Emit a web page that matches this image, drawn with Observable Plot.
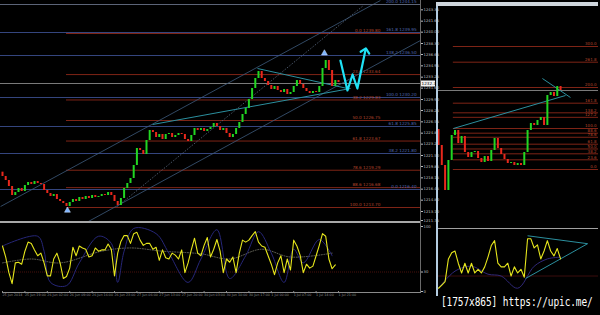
<!DOCTYPE html>
<html><head><meta charset="utf-8">
<script src="https://cdn.jsdelivr.net/npm/d3@7"></script>
<script src="https://cdn.jsdelivr.net/npm/@observablehq/plot@0.6"></script>
<style>
html,body{margin:0;padding:0;background:#000;}
#wrap{position:relative;width:600px;height:315px;background:#000;overflow:hidden;font-family:"DejaVu Sans",sans-serif;}
.p{position:absolute;}
.ln{position:absolute;}
#wm{position:absolute;left:441px;top:294px;color:#fff;font:9.5px "DejaVu Sans Mono",monospace;letter-spacing:-0.1px;white-space:nowrap;transform:scaleY(1.3);transform-origin:top left;}
</style></head><body><div id="wrap"></div>
<script>
// ---------- LEFT (H1) main chart data ----------
const leftFirstOpen = 1219.00;
const leftCloses = [1218.35,1217.75,1216.85,1215.50,1215.95,1216.55,1216.10,1217.00,1217.45,1217.15,
1217.60,1217.30,1217.15,1216.25,1215.80,1215.35,1215.65,1214.90,1214.60,1214.30,
1213.85,1214.45,1214.90,1214.60,1215.20,1214.90,1215.35,1215.05,1215.50,1215.20,
1215.35,1215.65,1215.50,1215.95,1215.50,1214.60,1214.00,1215.05,1216.55,1217.30,
1218.05,1220.00,1222.55,1222.25,1221.65,1223.75,1225.25,1224.95,1224.20,1224.65,
1223.90,1224.65,1224.80,1224.20,1224.50,1224.80,1224.65,1223.90,1223.60,1224.50,
1225.55,1225.25,1225.55,1225.10,1225.40,1225.70,1226.30,1225.85,1225.25,1225.55,
1224.80,1224.20,1224.65,1225.55,1226.45,1227.65,1228.55,1229.90,1231.55,1233.05,
1234.10,1233.05,1232.60,1232.00,1231.40,1231.85,1231.25,1230.95,1231.40,1230.65,
1230.95,1231.85,1232.75,1232.15,1231.55,1231.10,1230.80,1231.10,1230.95,1231.85,
1234.55,1235.75,1234.25,1231.85,1232.75,1232.45];
const currentPrice = 1232.30;
const priceTicks = [1243.35,1241.65,1240.00,1238.30,1236.65,1234.95,1233.25,1231.60,1229.90,1228.25,
1226.55,1224.85,1223.20,1221.50,1219.85,1218.15,1216.45,1214.80,1213.10,1211.75];
// fibo retracement (red)
const fibNames = ["0.0","23.6","38.2","50.0","61.8","78.6","88.6","100.0"];
const fibPrices = [1239.80,1233.64,1229.83,1226.75,1223.67,1219.29,1216.68,1213.70];
const fibStartBar = 20;
// fibo expansion (blue)
const expNames = ["200.0","161.8","138.2","100.0","61.8","38.2","0.0"];
const expPrices = [1244.15,1239.95,1236.50,1230.20,1225.85,1221.80,1216.40];
// trend lines [bar1, price1, bar2, price2]
const triUpper = [79.7,1234.55,107.8,1231.55];
const triLower = [46.9,1226.15,108.75,1231.55];
const chan1 = [-0.6,1213.85,118.1,1244.75];
const chan2 = [35.9,1213.85,112.8,1244.00];
const chan3 = [26.25,1211.45,130.6,1238.75];
const arrowBars = [20.3,100.6];
const arrowPrices = [1213.25,1236.85];
// hand-drawn cyan forecast zigzag
const zigBars = [105.6,107.8,109.4,110.9,113.4];
const zigPrices = [1235.75,1231.25,1233.65,1231.55,1237.25];
// oscillator (left)
const oscMain = [70,53,29,12,44,45,42,62,76,74,
64,55,59,44,24,24,50,59,44,20,
23,36,68,55,70,67,65,53,55,67,
62,64,64,73,65,24,59,77,86,86,
74,89,91,79,71,74,74,65,68,48,
64,52,50,59,56,50,64,29,44,64,
82,59,55,71,83,53,65,80,62,29,
50,45,53,29,59,79,76,79,86,92,
76,70,68,55,42,26,44,55,29,50,
33,79,70,56,29,42,36,39,55,71,
89,85,50,35,41];
const sigBars = [0,11,13,15,20,24,30,34,36,38,41,48,52,58,62,67,71,76,80,84,88,91,94,99,103];
const sigVals = [70,85,62,14,9,44,85,74,14,62,97,89,59,14,50,95,20,55,92,59,14,65,44,80,55];
const maBars = [0,9,18,31,40,50,62,71,81,90,103];
const maVals = [44,50,44,62,67,62,58,50,65,53,59];
const oscLevel = 30;
const oscTicks = [0,30,100];
const timeTicks = [0,7,14,21,28,35,42,49,56,63,70,77,84,91,98,105];
const timeLabels = ["25 Jun 2014","25 Jun 19:00","26 Jun 02:00","26 Jun 09:00","26 Jun 16:00","26 Jun 23:00","27 Jun 06:00","27 Jun 13:00","27 Jun 20:00","30 Jun 03:00","30 Jun 10:00","30 Jun 17:00","1 Jul 00:00","1 Jul 07:00","1 Jul 14:00","1 Jul 21:00"];

// ---------- RIGHT (H4) chart data ----------
const rightFirstOpen = 1222.55;
const rightCloses = [1218.55,1213.55,1207.30,1214.80,1221.05,1222.30,1219.05,1220.80,1216.80,1215.55,
1216.80,1217.05,1215.30,1214.30,1215.80,1214.55,1217.30,1220.30,1217.80,1216.30,
1215.05,1214.05,1214.30,1213.55,1214.05,1213.55,1216.80,1222.30,1224.05,1223.55,
1224.80,1225.55,1223.55,1231.05,1231.80,1230.80,1233.30,1232.30];
const rFibNames = ["0.0","23.6","38.2","50.0","61.8","78.6","88.6","100.0","127.2","138.2","161.8","200.0","261.8","300.0"];
const rFibPrices = [1212.55,1214.97,1216.47,1217.68,1218.88,1220.61,1221.63,1222.80,1225.59,1226.72,1229.13,1233.05,1239.38,1243.30];
const rFibStart = 4.5;
const rLineA = [4.5,1222.80,38.5,1231.05];
const rLineB = [31.5,1235.30,40,1230.55];
const rOscMain = [7,12,18,55,65,68,48,32,48,32,48,32,38,32,42,58,77,85,48,42,42,48,27,42,32,38,25,88,88,73,78,55,68,85,68,60,72,55];
const rSigBars = [0,5,10,15,19,24,29,33,37];
const rSigVals = [7,35,43,30,27,7,43,55,58];
const rOscLevel = 27;
const rTriUp = [27,93,45.2,80];
const rTriLo = [26.4,23,45.2,80];

// ---------- colours ----------
const UP = "#22d622", DN = "#e8281c", FIBRED = "#7e2416", FIBTXT = "#b5452c",
      BLUE = "#34457e", BLUETXT = "#5068b0", TEAL = "#2b8f9e", CHAN = "#3e5a7c", GRID = "#7a7a7a";

const wrap = document.getElementById("wrap");
function place(node, left, top) { node.classList.add("p"); node.style.left = left + "px"; node.style.top = top + "px"; wrap.appendChild(node); }
function line(l, t, w, h, c) { const d = document.createElement("div"); d.className = "ln"; Object.assign(d.style, {left:l+"px", top:t+"px", width:w+"px", height:h+"px", background:c}); wrap.appendChild(d); }
const seg = a => [{x1:a[0], y1:a[1], x2:a[2], y2:a[3]}];
const baseStyle = {background:"transparent", color:"#bbb", fontFamily:"DejaVu Sans, sans-serif", overflow:"visible"};

const leftBars = leftCloses.map((c,i)=>({i, open: i===0 ? leftFirstOpen : leftCloses[i-1], close:c}));
const fibTable = fibNames.map((n,k)=>({n, p: fibPrices[k]}));
const expTable = expNames.map((n,k)=>({n, p: expPrices[k]}));
const zig = zigBars.map((b,k)=>({b, p: zigPrices[k]}));
const arrows = arrowBars.map((b,k)=>({b, p: arrowPrices[k]}));

const xDomL = [-0.625, 130.625];

const mainL = Plot.plot({
  width: 436, height: 222, marginTop: 5, marginBottom: 0, marginLeft: 0, marginRight: 16,
  style: baseStyle,
  x: {domain: xDomL, axis: null, label: null},
  y: {domain: [1211.45, 1244.0], label: null},
  color: {type: "identity"},
  marks: [
    Plot.ruleY(expTable, {y: "p", stroke: BLUE, strokeWidth: 1}),
    Plot.ruleY(fibTable, {y: "p", x1: fibStartBar, x2: xDomL[1], stroke: FIBRED, strokeWidth: 1}),
    Plot.ruleY([currentPrice], {stroke: GRID, strokeWidth: 1}),
    Plot.text(fibTable, {x: 118.1, y: "p", text: d => `${d.n} ${d.p.toFixed(2)}`, textAnchor: "end", dy: -2.5, fontSize: 4.2, fill: FIBTXT}),
    Plot.text(expTable, {x: 129.4, y: "p", text: d => `${d.n} ${d.p.toFixed(2)}`, textAnchor: "end", dy: -2.5, fontSize: 4.2, fill: BLUETXT}),
    Plot.link(seg(chan1), {x1:"x1", y1:"y1", x2:"x2", y2:"y2", stroke: CHAN, strokeWidth: 0.8}),
    Plot.link(seg(chan2), {x1:"x1", y1:"y1", x2:"x2", y2:"y2", stroke: "#5a6a80", strokeWidth: 0.8, strokeDasharray: "1.5,1.5"}),
    Plot.link(seg(chan3), {x1:"x1", y1:"y1", x2:"x2", y2:"y2", stroke: CHAN, strokeWidth: 0.8}),
    Plot.link(seg(triUpper), {x1:"x1", y1:"y1", x2:"x2", y2:"y2", stroke: TEAL, strokeWidth: 1}),
    Plot.link(seg(triLower), {x1:"x1", y1:"y1", x2:"x2", y2:"y2", stroke: TEAL, strokeWidth: 1}),
    Plot.ruleX(leftBars, {x: "i", y1: "open", y2: "close", stroke: d => d.close >= d.open ? UP : DN, strokeWidth: 2}),
    Plot.dot(arrows, {x: "b", y: "p", symbol: "triangle", r: 2.2, fill: "#7db4ff", stroke: "#cfe2ff", strokeWidth: 0.5}),
    Plot.line(zig, {x: "b", y: "p", stroke: "#1fe2f6", strokeWidth: 2.2, markerEnd: "arrow"}),
    Plot.axisY(priceTicks, {anchor: "right", label: null, tickSize: 2, tickPadding: 1, tickFormat: d => d.toFixed(2), fontSize: 3.8, color: "#bdbdbd"}),
    Plot.ruleY([currentPrice], {x1: xDomL[1], x2: xDomL[1] + 4.7, stroke: "#f2f2f2", strokeWidth: 6}),
    Plot.text([currentPrice], {x: xDomL[1], y: d => d, text: d => d.toFixed(2), textAnchor: "start", dx: 1, fontSize: 4.2, fill: "#000"})
  ]
});
place(mainL, 0, 0);

const oscL = Plot.plot({
  width: 436, height: 80, marginTop: 6, marginBottom: 9, marginLeft: 0, marginRight: 16,
  style: baseStyle,
  x: {domain: xDomL, label: null},
  y: {domain: [0, 100], label: null},
  marks: [
    Plot.ruleY([oscLevel], {stroke: "#5a1410", strokeWidth: 0.8, strokeDasharray: "1,1"}),
    Plot.line(maBars.map((b,k)=>({b, v: maVals[k]})), {x: "b", y: "v", stroke: "#8a8a7a", strokeWidth: 0.7, strokeDasharray: "1,1.5", curve: "catmull-rom"}),
    Plot.line(sigBars.map((b,k)=>({b, v: sigVals[k]})), {x: "b", y: "v", stroke: "#262678", strokeWidth: 1, curve: "catmull-rom"}),
    Plot.line(oscMain.map((v,i)=>({i, v})), {x: "i", y: "v", stroke: "#e6e61c", strokeWidth: 1.1}),
    Plot.axisY(oscTicks, {anchor: "right", label: null, tickSize: 2, tickPadding: 1, fontSize: 3.8, color: "#bdbdbd"}),
    Plot.axisX(timeTicks, {anchor: "bottom", label: null, tickSize: 1, tickPadding: 1.5, tickFormat: d => timeLabels[timeTicks.indexOf(d)], fontSize: 3.3, textAnchor: "start", color: "#8c8c8c"})
  ]
});
place(oscL, 0, 220);

// ---------- right panel ----------
const rightBars = rightCloses.map((c,j)=>({j, open: j===0 ? rightFirstOpen : rightCloses[j-1], close:c}));
const rFib = rFibNames.map((n,k)=>({n, p: rFibPrices[k]}));
const xDomR = [0, 48.5];

const mainR = Plot.plot({
  width: 164, height: 226, marginTop: 6, marginBottom: 0, marginLeft: 2, marginRight: 2,
  style: baseStyle,
  x: {domain: xDomR, axis: null},
  y: {domain: [1198.3, 1253.3], axis: null},
  color: {type: "identity"},
  marks: [
    Plot.ruleY(rFib, {y: "p", x1: rFibStart, x2: xDomR[1], stroke: FIBRED, strokeWidth: 1}),
    Plot.ruleY([currentPrice], {stroke: GRID, strokeWidth: 1}),
    Plot.text(rFib, {x: 47.9, y: "p", text: "n", textAnchor: "end", dy: -2.3, fontSize: 4, fill: FIBTXT}),
    Plot.link(seg(rLineA), {x1:"x1", y1:"y1", x2:"x2", y2:"y2", stroke: TEAL, strokeWidth: 1}),
    Plot.link(seg(rLineB), {x1:"x1", y1:"y1", x2:"x2", y2:"y2", stroke: TEAL, strokeWidth: 1}),
    Plot.ruleX(rightBars, {x: "j", y1: "open", y2: "close", stroke: d => d.close >= d.open ? UP : DN, strokeWidth: 2})
  ]
});
place(mainR, 436, 0);

const oscR = Plot.plot({
  width: 164, height: 70, marginTop: 5, marginBottom: 4, marginLeft: 2, marginRight: 2,
  style: baseStyle,
  x: {domain: xDomR, axis: null},
  y: {domain: [0, 100], axis: null},
  marks: [
    Plot.ruleY([rOscLevel], {stroke: "#4a1010", strokeWidth: 0.8}),
    Plot.line(rSigBars.map((b,k)=>({b, v: rSigVals[k]})), {x: "b", y: "v", stroke: "#302878", strokeWidth: 1, curve: "catmull-rom"}),
    Plot.link(seg(rTriUp), {x1:"x1", y1:"y1", x2:"x2", y2:"y2", stroke: TEAL, strokeWidth: 1}),
    Plot.link(seg(rTriLo), {x1:"x1", y1:"y1", x2:"x2", y2:"y2", stroke: TEAL, strokeWidth: 1}),
    Plot.line(rOscMain.map((v,j)=>({j, v})), {x: "j", y: "v", stroke: "#e6e61c", strokeWidth: 1.1})
  ]
});
place(oscR, 436, 226);

// ---------- window frames / separators ----------
line(0, 4, 420, 1, "#5c6478");
line(420, 0, 1, 293, "#6a6a6a");
line(0, 221, 420, 2, "#a8a8a8");
line(2, 292, 419, 1, "#8a8a8a");
line(436, 2, 2, 294, "#b4cce0");
line(436, 2, 162, 4, "#cfd6dd");
line(438, 228, 160, 1, "#a0a0a0");

const wm = document.createElement("div");
wm.id = "wm";
wm.textContent = "[1757x865] https://upic.me/";
wrap.appendChild(wm);
</script>
</body></html>
